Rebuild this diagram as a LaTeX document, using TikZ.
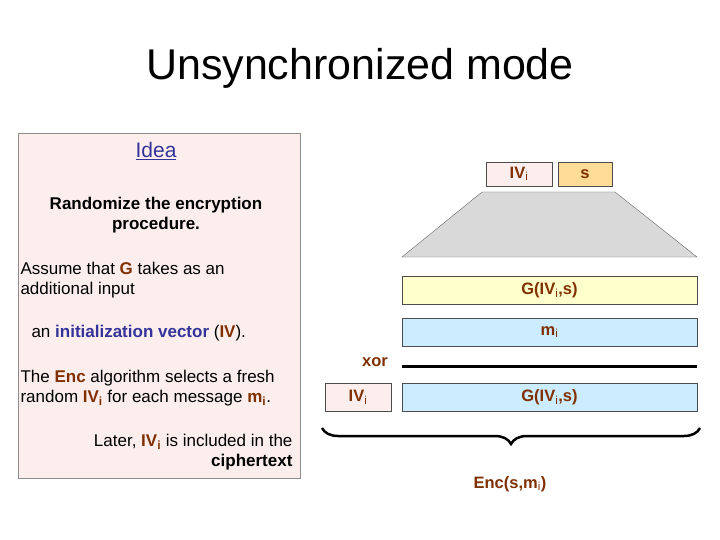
\documentclass[tikz,border=0pt]{standalone}
\usepackage{fontspec}
\setmainfont{Liberation Sans}
\usetikzlibrary{decorations.pathreplacing}
\definecolor{encbrown}{RGB}{128,48,0}
\definecolor{ideablue}{RGB}{51,51,153}
\definecolor{panelpink}{RGB}{253,238,238}
\definecolor{keyorange}{RGB}{252,220,150}
\definecolor{genyellow}{RGB}{255,255,204}
\definecolor{msgblue}{RGB}{204,236,255}
\tikzset{
  field/.style={draw=black!70, minimum height=28pt, inner sep=0pt, font=\bfseries\fontsize{16.5}{18}\selectfont, text=encbrown},
  note/.style={font=\fontsize{17}{20}\selectfont, align=center}
}
\newcommand{\hl}[1]{\textcolor{encbrown}{\textbf{#1}}}
\newcommand{\hb}[1]{\textcolor{ideablue}{\textbf{#1}}}
\begin{document}
\begin{tikzpicture}[x=1pt, y=-1pt]
  \useasboundingbox (0,0) rectangle (720,540);
  \node [font=\fontsize{43}{46}\selectfont] (title) at (360,68) {Unsynchronized mode};

  % left panel
  \draw [draw=black!45, fill=panelpink] (18,133) rectangle (300,478);
  \node [note, text=ideablue, font=\fontsize{21}{24}\selectfont] (idea) at (156,151) {\underline{Idea}};
  \node [note] (rand) at (156,215) {\textbf{Randomize the encryption}\\\textbf{procedure.}};
  \node [note, anchor=west, align=left] (assume) at (17,280) {Assume that \hl{G} takes as an\\additional input};
  \node [note, anchor=west] (iv) at (28,333) {an \hb{initialization vector} (\hl{IV}).};
  \node [note, anchor=west, align=left] (select) at (17,388) {The \hl{Enc} algorithm selects a fresh\\random \hl{IV$_\mathbf{i}$} for each message \hl{m$_\mathbf{i}$}.};
  \node [note, anchor=east, align=right] (later) at (296,452) {Later, \hl{IV$_\mathbf{i}$} is included in the\\\textbf{ciphertext}};

  % key material
  \node [field, fill=panelpink, minimum width=66pt, minimum height=24pt] (ivtop) at (519,174) {IV$_\mathrm{i}$};
  \node [field, fill=keyorange, minimum width=54pt, minimum height=24pt] (seed) at (585,174) {s};
  \draw [draw=black!60, fill=black!15] (482,192) coordinate (t1) -- (615,192) coordinate (t2)
    -- (697,257) coordinate (t3) -- (402,257) coordinate (t4) -- cycle;

  % stream and message
  \node [field, fill=genyellow, minimum width=295pt] (gen) at (549.5,290.5) {G(IV$_\mathrm{i}$,s)};
  \node [field, fill=msgblue, minimum width=295pt] (msg) at (549.5,332) {m$_\mathrm{i}$};
  \coordinate (xl) at (402,366);
  \coordinate (xr) at (697,366);
  \draw [line width=3pt] (xl) -- (xr);
  \node [field, draw=none, fill=none] (xor) at (375,362) {xor};

  % ciphertext
  \node [field, fill=panelpink, minimum width=66pt] (ivc) at (358,397.5) {IV$_\mathrm{i}$};
  \node [field, fill=msgblue, minimum width=295pt] (cgen) at (549.5,397.5) {G(IV$_\mathrm{i}$,s)};
  \coordinate (bl) at (322,428);
  \coordinate (br) at (700,428);
  \draw [line width=2.5pt, decorate, decoration={brace, mirror, amplitude=16pt}] (bl) -- (br);
  \node [field, draw=none, fill=none] (enc) at (510,484) {Enc(s,m$_\mathrm{i}$)};
\end{tikzpicture}
\end{document}
